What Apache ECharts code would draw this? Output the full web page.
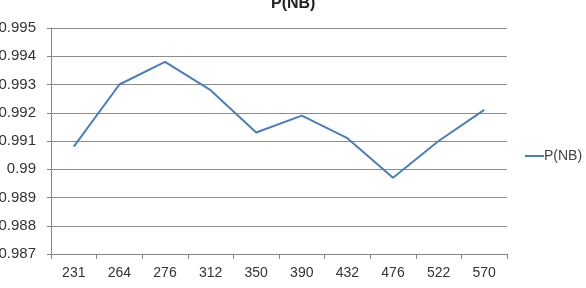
<!DOCTYPE html>
<html>
<head>
<meta charset="utf-8">
<script src="https://cdn.jsdelivr.net/npm/echarts@6/dist/echarts.min.js"></script>
<style>html,body{margin:0;padding:0;background:#fff}#c{width:586px;height:288px}</style>
</head>
<body>
<div id="c"></div>
<script>
const categories = ['231','264','276','312','350','390','432','476','522','570'];
const seriesName = 'P(NB)';
const values = [0.9908, 0.9930, 0.9938, 0.9928, 0.9913, 0.9919, 0.9911, 0.9897, 0.9910, 0.9921];
const yMin = 0.987, yMax = 0.995, yStep = 0.001;

const chart = echarts.init(document.getElementById('c'));
chart.setOption({
  animation: false,
  title: {
    text: 'P(NB)', left: 266, top: -9,
    textStyle: { fontFamily: 'Liberation Sans', fontSize: 16, fontWeight: 'bold', color: '#222' }
  },
  legend: {
    data: [seriesName], left: 520, top: 144, orient: 'vertical',
    icon: 'rect', itemWidth: 19, itemHeight: 2, itemGap: 0,
    textStyle: { fontFamily: 'Liberation Sans', fontSize: 14, color: '#444', padding: [0,0,0,-5] }
  },
  grid: { left: 51, right: 79, top: 28, bottom: 34, containLabel: false, outerBoundsMode: 'none' },
  xAxis: {
    type: 'category', data: categories, boundaryGap: true,
    axisLine: { lineStyle: { color: '#868686', width: 1 } },
    axisTick: { show: true, length: 5, alignWithLabel: false, lineStyle: { color: '#868686' } },
    axisLabel: { fontFamily: 'Liberation Sans', fontSize: 14, color: '#333', margin: 12 }
  },
  yAxis: {
    type: 'value', min: yMin, max: yMax, interval: yStep,
    axisLine: { show: true, lineStyle: { color: '#868686', width: 1 } },
    axisTick: { show: true, length: 4, lineStyle: { color: '#868686' } },
    splitLine: { lineStyle: { color: '#8c8c8c', width: 1 } },
    axisLabel: {
      fontFamily: 'Liberation Sans', fontSize: 15, color: '#333', margin: 15,
      formatter: v => parseFloat(v.toFixed(3)).toString()
    }
  },
  series: [{
    name: seriesName, type: 'line', data: values,
    symbol: 'none', lineStyle: { color: '#4a7ebb', width: 2 }, itemStyle: { color: '#4a7ebb' }
  }]
});
</script>
</body>
</html>
